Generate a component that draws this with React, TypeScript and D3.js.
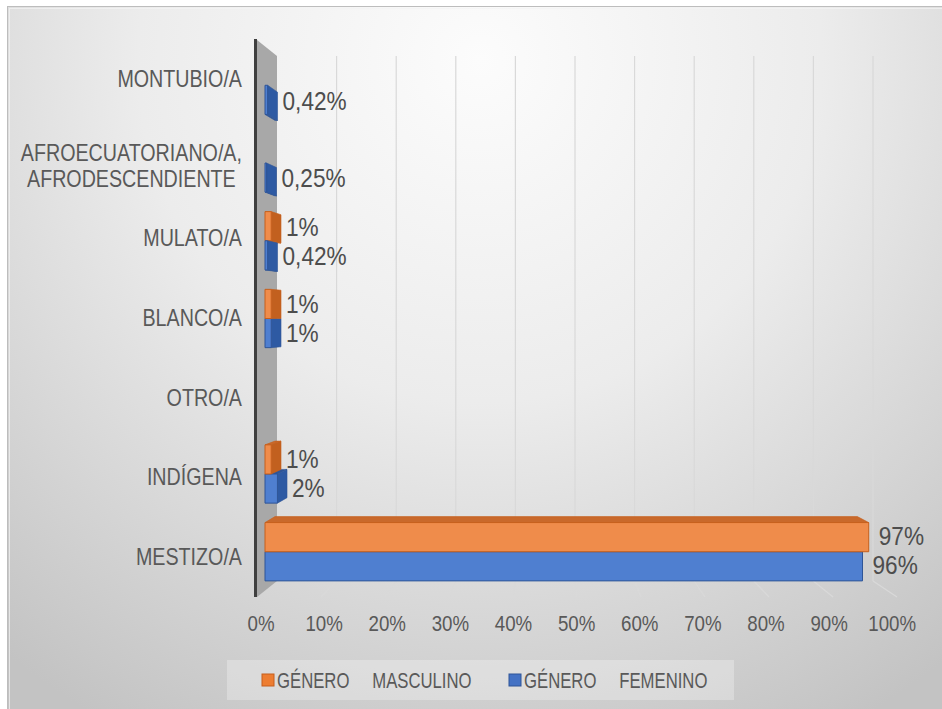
import React from "react";
import * as d3 from "d3";

// ---------- DATA ----------
const categories = [
  "MESTIZO/A",
  "INDÍGENA",
  "OTRO/A",
  "BLANCO/A",
  "MULATO/A",
  "AFROECUATORIANO/A,\nAFRODESCENDIENTE",
  "MONTUBIO/A",
];
const seriesNames = ["GÉNERO MASCULINO", "GÉNERO FEMENINO"];
const masculino = [97, 1, 0, 1, 1, 0, 0];
const femenino = [96, 2, 0, 1, 0.42, 0.25, 0.42];
const tickValues = [0, 10, 20, 30, 40, 50, 60, 70, 80, 90, 100];

// ---------- STYLE / GEOMETRY ----------
const W = 942;
const H = 709;
const FONT = "'Liberation Sans', Arial, sans-serif";
const TEXT = "#595959";
const FRONT = { x0: 257, x1: 897, yb: 597, yt: 40 };
const BACK = { x0: 277, x1: 873, yb: 581, yt: 56 };
const Z0 = 0.4;
const Z1 = 0.9;

const n = categories.length;
const xF = d3.scaleLinear().domain([0, 100]).range([FRONT.x0, FRONT.x1]);
const xB = d3.scaleLinear().domain([0, 100]).range([BACK.x0, BACK.x1]);
const yF = d3.scaleLinear().domain([0, n]).range([FRONT.yb, FRONT.yt]);
const yB = d3.scaleLinear().domain([0, n]).range([BACK.yb, BACK.yt]);
const catUnits = d3.scaleBand<string>().domain(categories).range([0, n]);
const sub = d3
  .scaleBand<string>()
  .domain(["fem", "masc"])
  .range([0, 1])
  .paddingInner(0)
  .paddingOuter(1 / 3);

function proj(v: number, c: number, z: number): [number, number] {
  const x = xF(v) + (xB(v) - xF(v)) * z;
  const y = yF(c) + (yB(c) - yF(c)) * z;
  return [x, y];
}

const pts = (a: [number, number][]) => a.map((p) => p.join(",")).join(" ");

const COLORS: Record<string, any> = {
  masc: { front: "#EF8C4B", top: "#C9692B", end: "#C2601F", stroke: "#C65F1C", sw: "#ED7D31" },
  fem: { front: "#4F7FD0", top: "#2F5597", end: "#2E5AA3", stroke: "#2F5597", sw: "#4472C4" },
};

function fmt(v: number) {
  if (v >= 1) return `${Math.round(v)}%`;
  return `${v.toFixed(2).replace(".", ",")}%`;
}

let measureCtx: CanvasRenderingContext2D | null = null;
function measure(text: string, size: number) {
  if (!measureCtx) {
    const c = document.createElement("canvas");
    measureCtx = c.getContext("2d");
  }
  if (!measureCtx) return text.length * size * 0.6;
  measureCtx.font = `${size}px ${FONT}`;
  return measureCtx.measureText(text).width;
}

// horizontally condensed text (Calibri-like proportions)
function SText({ x, y, sx, size, anchor = "start", fill = TEXT, children, wordSpacing }: any) {
  return (
    <text
      transform={`translate(${x},${y}) scale(${sx},1)`}
      x={0}
      y={0}
      textAnchor={anchor}
      dominantBaseline="central"
      fontSize={size}
      fill={fill}
      fontFamily={FONT}
      style={wordSpacing ? { wordSpacing: `${wordSpacing}px` } : undefined}
    >
      {children}
    </text>
  );
}

function Bar({ s, ci, value }: { s: string; ci: number; value: number }) {
  const c0 = ci + (sub(s) as number);
  const c1 = c0 + sub.bandwidth();
  const col = COLORS[s];
  const front = [proj(0, c0, Z0), proj(value, c0, Z0), proj(value, c1, Z0), proj(0, c1, Z0)];
  const faces: JSX.Element[] = [];
  if (proj(0, c1, Z1)[1] < proj(0, c1, Z0)[1]) {
    faces.push(
      <polygon key="top" points={pts([proj(0, c1, Z0), proj(value, c1, Z0), proj(value, c1, Z1), proj(0, c1, Z1)])}
        fill={col.top} stroke={col.stroke} strokeWidth={0.6} />
    );
  }
  if (proj(0, c0, Z1)[1] > proj(0, c0, Z0)[1]) {
    faces.push(
      <polygon key="bot" points={pts([proj(0, c0, Z0), proj(value, c0, Z0), proj(value, c0, Z1), proj(0, c0, Z1)])}
        fill={col.top} stroke={col.stroke} strokeWidth={0.6} />
    );
  }
  if (xB(value) > xF(value)) {
    faces.push(
      <polygon key="end" points={pts([proj(value, c0, Z0), proj(value, c1, Z0), proj(value, c1, Z1), proj(value, c0, Z1)])}
        fill={col.end} stroke={col.stroke} strokeWidth={0.6} />
    );
  }
  faces.push(<polygon key="front" points={pts(front)} fill={col.front} stroke={col.stroke} strokeWidth={1} />);
  return <g>{faces}</g>;
}

export default function App() {
  const horizon = (FRONT.yb - BACK.yb) / ((FRONT.yb - FRONT.yt) / n - (BACK.yb - BACK.yt) / n);

  const bars: JSX.Element[] = [];
  const labels: JSX.Element[] = [];
  categories.forEach((cat, i) => {
    const ci = catUnits(cat) as number;
    const items = [
      { s: "fem", v: femenino[i] },
      { s: "masc", v: masculino[i] },
    ];
    const order = ci + 0.5 < horizon ? items : [...items].reverse();
    order.forEach(({ s, v }) => {
      if (v > 0) bars.push(<Bar key={cat + s} s={s} ci={ci} value={v} />);
    });
    items.forEach(({ s, v }) => {
      if (v <= 0) return;
      const c0 = ci + (sub(s) as number);
      const cm = c0 + sub.bandwidth() / 2;
      const xs = [proj(v, c0, Z0)[0], proj(v, c0, Z1)[0]];
      const x = Math.max(...xs) + (v > 50 ? 10 : 5);
      const y = proj(v, cm, 0.5)[1];
      labels.push(
        <SText key={cat + s + "l"} x={x} y={y} sx={0.87} size={26} fill="#4d4d4d">
          {fmt(v)}
        </SText>
      );
    });
  });

  const CAT_SX = 0.82 * (24 / 23);
  const catLabels = categories.map((cat) => {
    const lines = cat.split("\n");
    const size = 23;
    const widths = lines.map((l) => measure(l, size) * CAT_SX);
    const maxW = Math.max(...widths);
    const right = 242;
    const cy = yF((catUnits(cat) as number) + 0.5) + (lines.length > 1 ? 7 : 0);
    const lh = 26;
    const startY = cy - ((lines.length - 1) * lh) / 2;
    return (
      <g key={cat}>
        {lines.map((l, k) => (
          <SText key={k} x={right - maxW / 2} y={startY + k * lh} sx={CAT_SX} size={size} anchor="middle">
            {l}
          </SText>
        ))}
      </g>
    );
  });

  const wallFront = xF(0);
  const wallPoly = pts([[wallFront, yF(0)], [wallFront, yF(n)], [xB(0), yB(n)], [xB(0), yB(0)]]);

  const legendX = [262, 509];

  return (
    <svg width={W} height={H} style={{ position: "fixed", left: 0, top: 0, background: "#ffffff" }}>
      <defs>
        <radialGradient id="bg" gradientUnits="userSpaceOnUse" cx={480} cy={60} r={760}>
          <stop offset="0" stopColor="#fcfcfc" />
          <stop offset="0.45" stopColor="#ececec" />
          <stop offset="1" stopColor="#c3c3c3" />
        </radialGradient>
      </defs>
      <rect x={7.5} y={6.5} width={960} height={730} fill="url(#bg)" stroke="#bdbdbd" strokeWidth={1} />
      <rect x={9.5} y={8.5} width={960} height={730} fill="none" stroke="#f4f4f4" strokeWidth={1} opacity={0.7} />

      <g stroke="#d9d9d9" strokeWidth={1.2}>
        {tickValues.filter((t) => t > 0).map((t) => (
          <g key={t}>
            <line x1={xB(t)} x2={xB(t)} y1={yB(n)} y2={yB(0)} />
            <line x1={xB(t)} x2={xF(t)} y1={yB(0)} y2={yF(0)} />
          </g>
        ))}
      </g>

      <polygon points={wallPoly} fill="#a8a8a8" />
      <line x1={wallFront - 1.5} x2={wallFront - 1.5} y1={yF(n) - 1} y2={yF(0)} stroke="#3f3f3f" strokeWidth={3} />

      {bars}
      {labels}
      {catLabels}

      {tickValues.map((t) => (
        <SText key={t} x={xF(t) + (xB(t) - xF(t)) * 0.2} y={623} sx={0.85} size={22} anchor="middle">
          {`${t}%`}
        </SText>
      ))}

      <rect x={227} y={660} width={507} height={40} fill="#ffffff" opacity={0.28} />
      {seriesNames.map((name, k) => {
        const s = k === 0 ? "masc" : "fem";
        const x = legendX[k];
        return (
          <g key={name}>
            <rect x={x} y={674} width={12} height={12} fill={COLORS[s].sw} stroke={COLORS[s].stroke} strokeWidth={1} />
            <SText x={x + 15} y={680} sx={0.76} size={22} wordSpacing={24}>
              {name}
            </SText>
          </g>
        );
      })}
    </svg>
  );
}
